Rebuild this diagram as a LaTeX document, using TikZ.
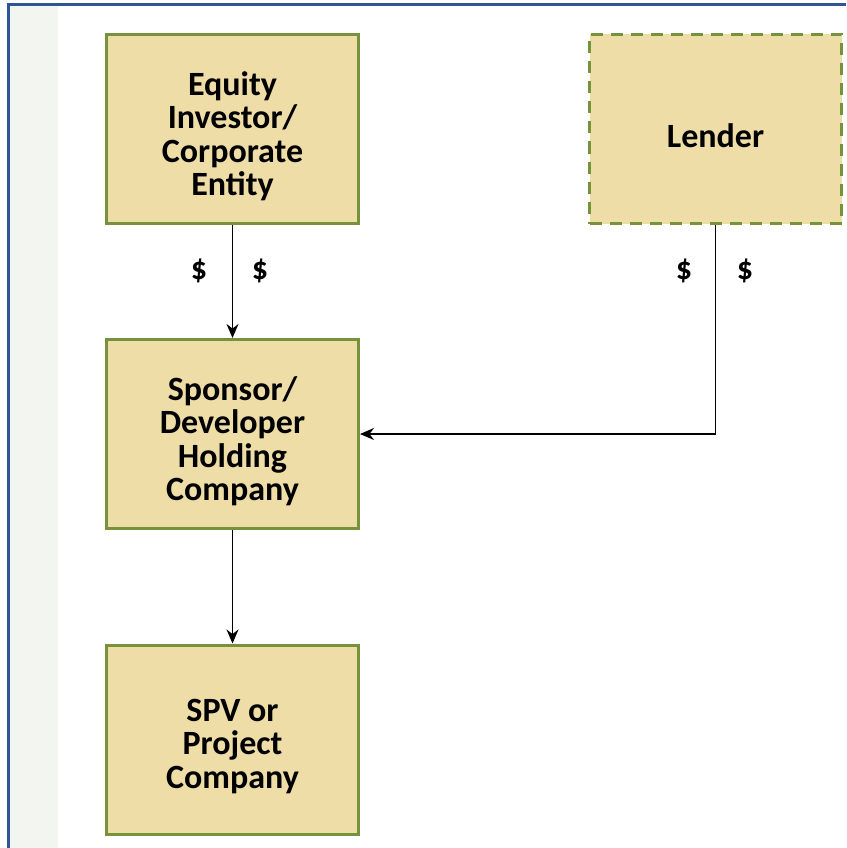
\documentclass[tikz,border=0pt]{standalone}
\usepackage{fontspec}
\setmainfont{Carlito}
\usetikzlibrary{arrows.meta}
\definecolor{boxfill}{HTML}{EFDDA8}
\definecolor{boxline}{HTML}{76923C}
\definecolor{framecol}{HTML}{2F5597}
\definecolor{stripcol}{HTML}{F3F5F0}
\tikzset{
  entity/.style={draw=boxline, line width=3pt, fill=boxfill, minimum width=252pt,
    minimum height=189pt, inner sep=0pt},
  optional/.style={entity, dashed, dash pattern=on 12pt off 8pt},
  caption/.style={align=center, inner sep=0pt, yshift=-7pt,
    font=\fontsize{34}{33.5}\selectfont\bfseries},
  flow/.style={draw=black, line width=1.6pt, -{Stealth[length=14pt,width=12pt]}},
  money/.style={font=\fontsize{32}{34}\selectfont\bfseries, inner sep=0pt}
}
\begin{document}
\begin{tikzpicture}[x=1pt,y=-1pt]
  \useasboundingbox (0,0) rectangle (846,848);
  \fill[white] (0,0) rectangle (846,848);
  % page strip and window frame
  \fill[stripcol] (9.5,6.5) rectangle (58,848);
  \draw[framecol, line width=3pt] (8,848) -- (8,5) -- (846,5);

  % parties
  \node[entity]   (equity)  at (232.5,129)   {};
  \node[optional] (lender)  at (715.5,129)   {};
  \node[entity]   (sponsor) at (232.5,434)   {};
  \node[entity]   (spv)     at (232.5,739.5) {};

  \node[caption] (equityT)  at (equity.center)  {Equity\\Investor/\\Corporate\\Entity};
  \node[caption] (lenderT)  at (lender.center)  {Lender};
  \node[caption] (sponsorT) at (sponsor.center) {Sponsor/\\Developer\\Holding\\Company};
  \node[caption] (spvT)     at (spv.center)     {SPV or\\Project\\Company};

  % funding flows
  \draw[flow] (equity.south) -- (sponsor.north);
  \draw[flow] (lender.south) |- (sponsor.east);
  \draw[flow] (sponsor.south) -- (spv.north);

  % money markers
  \node[money] (eqL) at (199,271) {\$};
  \node[money] (eqR) at (260,271) {\$};
  \node[money] (lnL) at (684,271) {\$};
  \node[money] (lnR) at (745,271) {\$};
\end{tikzpicture}
\end{document}
